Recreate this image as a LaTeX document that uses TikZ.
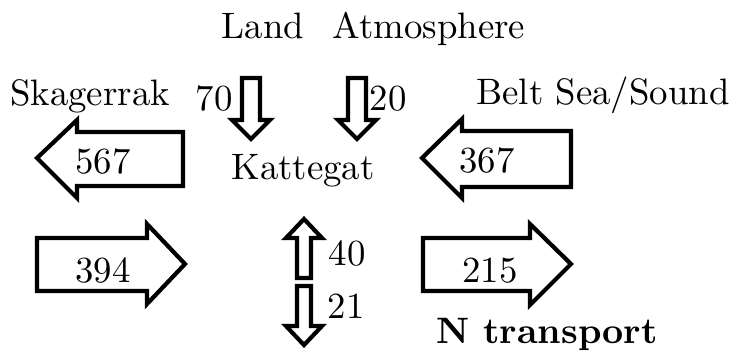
\documentclass[tikz,border=0pt]{standalone}
\usepackage{graphicx}
\newcommand{\bigtxt}[1]{\scalebox{3.68}{\fontsize{10}{12}\selectfont #1}}
\begin{document}
\begin{tikzpicture}[x=1pt,y=-1pt,
  blk/.style={draw=black,line width=4.2pt,line join=miter,fill=white},
  lbl/.style={anchor=base,inner sep=0pt}]
\useasboundingbox (0,0) rectangle (736,351);
% block arrows
\draw[blk] (37,158) -- (77,120) -- (77,132) -- (183,132) -- (183,186) -- (77,186) -- (77,198) -- cycle;
\draw[blk] (422,158) -- (462,119) -- (462,131) -- (571,131) -- (571,187) -- (462,187) -- (462,198) -- cycle;
\draw[blk] (37,238) -- (147,238) -- (147,224) -- (185,264) -- (147,304) -- (147,291) -- (37,291) -- cycle;
\draw[blk] (423,238) -- (530,238) -- (530,224) -- (571,264) -- (530,305) -- (530,291) -- (423,291) -- cycle;
% vertical arrows
\draw[blk] (242,78) -- (260,78) -- (260,120) -- (270,120) -- (251,139) -- (232,120) -- (242,120) -- cycle;
\draw[blk] (348,78) -- (366,78) -- (366,120) -- (376,120) -- (357,139) -- (338,120) -- (348,120) -- cycle;
\draw[blk] (297,278) -- (297,238) -- (286,238) -- (304,219) -- (322,238) -- (311,238) -- (311,278) -- cycle;
\draw[blk] (297,286) -- (311,286) -- (311,326) -- (322,326) -- (304,345) -- (286,326) -- (297,326) -- cycle;
% labels
\node[lbl] (land) at (263,38) {\bigtxt{Land}};
\node[lbl] (atm) at (429,38) {\bigtxt{Atmosphere}};
\node[lbl] (skag) at (90,105) {\bigtxt{Skagerrak}};
\node[lbl] (belt) at (603,104) {\bigtxt{Belt Sea/Sound}};
\node[lbl] (n70) at (214,110) {\bigtxt{70}};
\node[lbl] (n20) at (388,110) {\bigtxt{20}};
\node[lbl] (kat) at (303,179) {\bigtxt{Kattegat}};
\node[lbl] (n567) at (103,173) {\bigtxt{567}};
\node[lbl] (n367) at (487,172) {\bigtxt{367}};
\node[lbl] (n394) at (103,282) {\bigtxt{394}};
\node[lbl] (n215) at (490,282) {\bigtxt{215}};
\node[lbl] (n40) at (347,265) {\bigtxt{40}};
\node[lbl] (n21) at (346,318) {\bigtxt{21}};
\node[lbl] (ntr) at (547,343) {\bigtxt{\textbf{N transport}}};
\end{tikzpicture}
\end{document}
